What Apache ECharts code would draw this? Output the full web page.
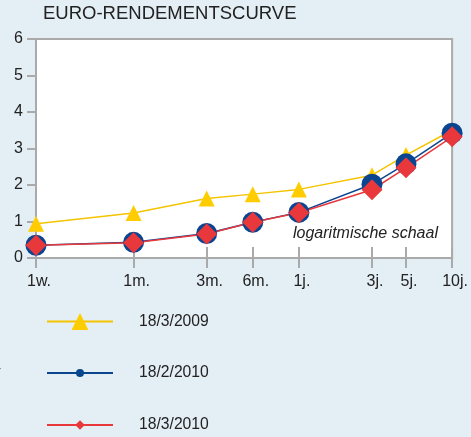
<!DOCTYPE html>
<html><head><meta charset="utf-8">
<script src="https://cdn.jsdelivr.net/npm/echarts@6/dist/echarts.min.js"></script>
<style>html,body{margin:0;padding:0;background:#e4eef5;}#c{width:471px;height:437px;}</style>
</head><body><div id="c"></div>
<script>
// Maturities in years (log scale), tick labels
const maturities = [1/52, 1/12, 0.25, 0.5, 1, 3, 5, 10];
const tickLabels = ['1w.', '1m.', '3m.', '6m.', '1j.', '3j.', '5j.', '10j.'];
const seriesNames = ['18/3/2009', '18/2/2010', '18/3/2010'];
const yields2009 = [0.94, 1.23, 1.63, 1.75, 1.88, 2.27, 2.82, 3.50];
const yieldsFeb2010 = [0.35, 0.43, 0.67, 0.98, 1.25, 2.02, 2.58, 3.42];
const yieldsMar2010 = [0.35, 0.42, 0.66, 0.98, 1.24, 1.87, 2.47, 3.32];
const yTicks = [0, 1, 2, 3, 4, 5, 6];

const xVals = maturities.map(m => Math.log10(m));
const pairs = arr => arr.map((v, i) => [xVals[i], v]);
const labelFor = v => {
  let best = 0;
  xVals.forEach((x, i) => { if (Math.abs(x - v) < Math.abs(xVals[best] - v)) best = i; });
  return tickLabels[best];
};
const FONT = '"Liberation Sans", Arial, sans-serif';
const GRAY = '#aaaaaa';
const cYellow = '#ffcc00', cBlue = '#0a4590', cRed = '#e8383c';

const chart = echarts.init(document.getElementById('c'), null, {renderer: 'canvas'});
const baseX = {
  type: 'value', min: xVals[0], max: xVals[xVals.length - 1], position: 'bottom',
  splitLine: {show: false}
};
chart.setOption({
  backgroundColor: '#e4eef5',
  animation: false,
  title: {text: 'EURO-RENDEMENTSCURVE', left: 43, top: 4, padding: 0,
    textStyle: {fontFamily: FONT, fontSize: 18.5, fontWeight: 'normal', color: '#222'}},
  grid: {left: 36, top: 39, right: 18.7, bottom: 179, show: true, backgroundColor: '#ffffff',
    borderColor: GRAY, borderWidth: 2, containLabel: false},
  xAxis: [
    Object.assign({}, baseX, {
      axisLine: {show: true, onZero: false, lineStyle: {color: GRAY, width: 2}},
      axisTick: {show: true, inside: false, length: 10, customValues: xVals, lineStyle: {color: GRAY, width: 2}},
      axisLabel: {show: true, customValues: xVals, margin: 16, formatter: labelFor,
        fontFamily: FONT, fontSize: 16, color: '#222', padding: [0, 0, 0, 6]}
    }),
    Object.assign({}, baseX, {
      axisLine: {show: false, onZero: false},
      axisTick: {show: true, inside: true, length: 11, customValues: xVals, lineStyle: {color: GRAY, width: 2}},
      axisLabel: {show: false}
    })
  ],
  yAxis: {
    type: 'value', min: yTicks[0], max: yTicks[yTicks.length - 1], interval: 1,
    axisLine: {show: true, onZero: false, lineStyle: {color: GRAY, width: 2}},
    axisTick: {show: true, inside: false, length: 9, lineStyle: {color: GRAY, width: 2}},
    axisLabel: {margin: 13, fontFamily: FONT, fontSize: 16, color: '#222'},
    splitLine: {show: false}
  },
  legend: [
    {data: [seriesNames[0]], left: 46, top: 311, orient: 'vertical', padding: 0,
      itemWidth: 66, itemHeight: 21,
      textStyle: {fontFamily: FONT, fontSize: 15.7, color: '#222', lineHeight: 21, padding: [0, 0, 0, 21]}},
    {data: [seriesNames[1]], left: 46, top: 365, orient: 'vertical', padding: 0,
      itemWidth: 66, itemHeight: 10,
      textStyle: {fontFamily: FONT, fontSize: 15.7, color: '#222', lineHeight: 10, padding: [0, 0, 0, 21]}},
    {data: [seriesNames[2]], left: 46, top: 417, orient: 'vertical', padding: 0,
      itemWidth: 66, itemHeight: 12,
      textStyle: {fontFamily: FONT, fontSize: 15.7, color: '#222', lineHeight: 12, padding: [0, 0, 0, 21]}}
  ],
  graphic: [
    {type: 'text', left: 293, top: 226, style: {text: 'logaritmische schaal', font: 'italic 16px "Liberation Sans", Arial, sans-serif', fill: '#222'}},
    {type: 'text', x: -4, y: 364, style: {text: 'r', font: '15px "Liberation Sans", Arial, sans-serif', fill: '#777'}}
  ],
  series: [
    {name: seriesNames[0], type: 'line', data: pairs(yields2009), symbol: 'triangle', symbolSize: [16, 16],
      itemStyle: {color: cYellow}, lineStyle: {color: '#f5c400', width: 1.5}},
    {name: seriesNames[1], type: 'line', data: pairs(yieldsFeb2010), symbol: 'circle', symbolSize: 21,
      itemStyle: {color: cBlue}, lineStyle: {color: cBlue, width: 1.5}},
    {name: seriesNames[2], type: 'line', data: pairs(yieldsMar2010), symbol: 'diamond', symbolSize: 21,
      itemStyle: {color: cRed}, lineStyle: {color: cRed, width: 1.5}}
  ]
});
</script></body></html>
